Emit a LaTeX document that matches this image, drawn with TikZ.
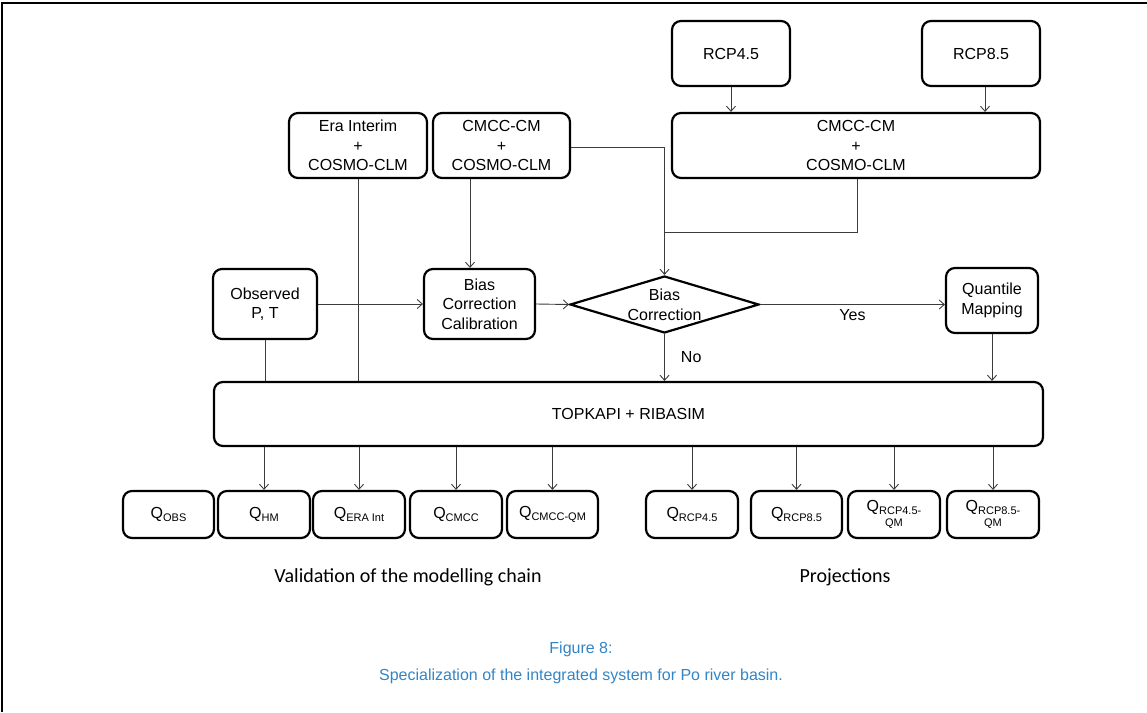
\documentclass[tikz,border=0pt]{standalone}
\usepackage{fontspec}
\setmainfont{Liberation Sans}
\newfontfamily\calib{Carlito}
\usetikzlibrary{shapes.geometric,arrows.meta}
\definecolor{capblue}{RGB}{52,132,196}
\definecolor{conn}{RGB}{60,60,60}
\newcommand\qsub[1]{\raisebox{-0.3ex}{\fontsize{11}{12}\selectfont #1}}
\begin{document}
\begin{tikzpicture}[x=1pt,y=-1pt,
  box/.style={draw, line width=2.2pt, rounded corners=9pt, align=center, inner sep=0pt,
    font=\fontsize{16}{19.5}\selectfont},
  qbox/.style={box, minimum height=47pt},
  conn/.style={draw=conn, line width=0.9pt},
  arr/.style={conn, -{Straight Barb[length=5pt,width=9pt]}},
  lbl/.style={font=\fontsize{16}{19.5}\selectfont, inner sep=2pt}]
\useasboundingbox (0,0) rectangle (1147,712);
\draw[line width=1.2pt] (2,712) -- (2,3) -- (1147,3);

% top nodes
\node[box, minimum width=118pt, minimum height=65pt] (rcpA) at (731,53.5) {RCP4.5};
\node[box, minimum width=118pt, minimum height=65pt] (rcpB) at (981,53.5) {RCP8.5};
\node[box, minimum width=368pt, minimum height=65pt] (big) at (856,145.5) {CMCC-CM\\+\\COSMO-CLM};
\node[box, minimum width=138pt, minimum height=65pt] (era) at (358,145.5) {Era Interim\\+\\COSMO-CLM};
\node[box, minimum width=137pt, minimum height=65pt] (cmcc) at (501.5,145.5) {CMCC-CM\\+\\COSMO-CLM};

% middle nodes
\node[box, minimum width=104pt, minimum height=70pt] (obs) at (265,304) {Observed\\P, T};
\node[box, minimum width=111pt, minimum height=70pt] (bcc) at (479.5,304) {Bias\\Correction\\Calibration};
\node[draw, diamond, line width=2.2pt, inner sep=0pt, minimum width=189pt, minimum height=57pt] (dia) at (664.5,304.5) {};
\node[lbl, align=center] (diat) at (664.5,305) {Bias\\Correction};
\node[box, minimum width=92pt, minimum height=65pt] (qm) at (992,300.5) {Quantile\\Mapping};

% main model
\node[box, minimum width=829pt, minimum height=64pt] (topk) at (628.5,414) {TOPKAPI + RIBASIM};

% outputs
\node[qbox, minimum width=91pt] (qobs) at (168.5,514.5) {Q\qsub{OBS}};
\node[qbox, minimum width=92pt] (qhm) at (264,514.5) {Q\qsub{HM}};
\node[qbox, minimum width=92pt] (qera) at (359,514.5) {Q\qsub{ERA Int}};
\node[qbox, minimum width=92pt] (qcmcc) at (456,514.5) {Q\qsub{CMCC}};
\node[qbox, minimum width=91pt] (qcmccqm) at (552.5,514.5) {Q\qsub{CMCC-QM}};
\node[qbox, minimum width=92pt] (qrA) at (692,514.5) {Q\qsub{RCP4.5}};
\node[qbox, minimum width=91pt] (qrB) at (796.5,514.5) {Q\qsub{RCP8.5}};
\node[qbox, minimum width=92pt, font=\fontsize{16}{16}\selectfont] (qrAqm) at (894,514.5) {Q\qsub{RCP4.5-}\\[-1pt]{\fontsize{11}{12}\selectfont QM}};
\node[qbox, minimum width=92pt, font=\fontsize{16}{16}\selectfont] (qrBqm) at (993,514.5) {Q\qsub{RCP8.5-}\\[-1pt]{\fontsize{11}{12}\selectfont QM}};

% group labels
\node[font=\calib\fontsize{20}{24}\selectfont] (val) at (408,577) {Validation of the modelling chain};
\node[font=\calib\fontsize{20}{24}\selectfont] (proj) at (845,577) {Projections};

% caption
\node[text=capblue, font=\fontsize{16}{19}\selectfont] (cap1) at (581,649) {Figure 8:};
\node[text=capblue, font=\fontsize{16}{19}\selectfont] (cap2) at (581,676) {Specialization of the integrated system for Po river basin.};

% connectors
\coordinate (j) at (664,232);
\draw[arr] (rcpA.south) -- (rcpA.south |- big.north);
\draw[arr] ([xshift=4pt]rcpB.south) -- ([xshift=4pt]rcpB.south |- big.north);
\draw[conn] ([xshift=1pt]big.south) |- (j);
\draw[arr] (cmcc.east |- 0,147) -| (dia.north);
\draw[conn] (era.south) -- (era.south |- topk.north);
\draw[arr] ([xshift=-31.5pt]cmcc.south) -- ([xshift=-31.5pt]cmcc.south |- bcc.north);
\draw[arr] (obs.east) -- (bcc.west);
\draw[conn] (obs.south) -- (obs.south |- topk.north);
\draw[arr] (bcc.east) -- (dia.west);
\draw[arr] (dia.east) -- node[lbl, below=3pt] (yes) {Yes} (qm.west |- dia.east);
\draw[arr] (dia.south) -- node[lbl, right=14pt] (no) {No} (dia.south |- topk.north);
\draw[arr] (qm.south) -- (qm.south |- topk.north);
\foreach \q in {qhm,qera,qcmcc,qcmccqm,qrA,qrB,qrAqm,qrBqm}{
  \draw[arr] (\q.north |- topk.south) -- (\q.north);
}
\end{tikzpicture}
\end{document}
